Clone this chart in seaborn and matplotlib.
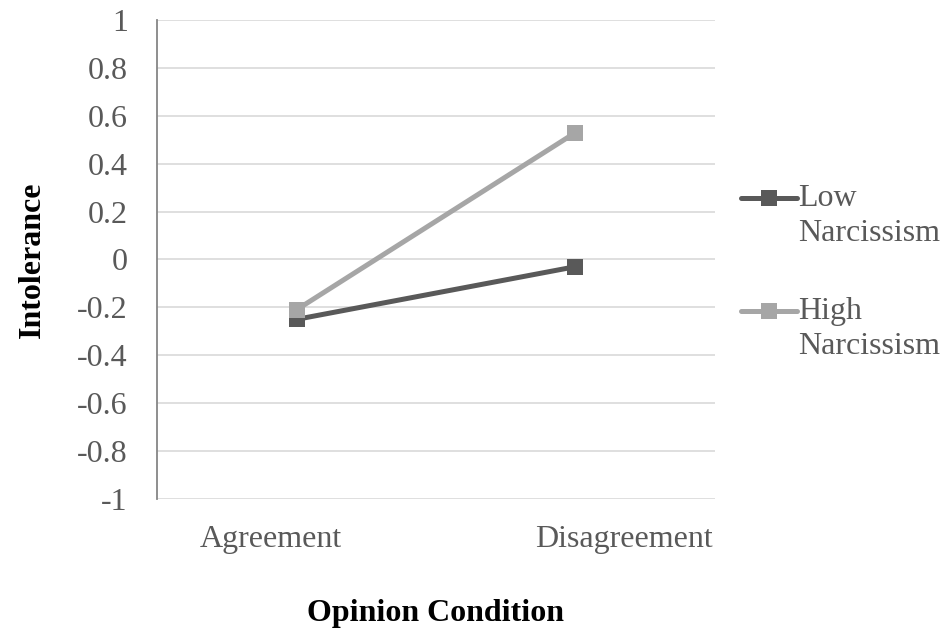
import matplotlib
matplotlib.use("Agg")
import matplotlib.pyplot as plt
import matplotlib.transforms as mtransforms
import numpy as np
import pandas as pd
import seaborn as sns

conditions = ["Agreement", "Disagreement"]
low_narcissism = [-0.25, -0.03]
high_narcissism = [-0.21, 0.53]
groups = ["Low\nNarcissism", "High\nNarcissism"]
y_ticks = [1, 0.8, 0.6, 0.4, 0.2, 0, -0.2, -0.4, -0.6, -0.8, -1]

df = pd.DataFrame({
    "Opinion Condition": conditions * 2,
    "Intolerance": low_narcissism + high_narcissism,
    "group": [groups[0]] * 2 + [groups[1]] * 2,
})

sns.set_style("white")
plt.rcParams["font.family"] = ["Liberation Serif", "DejaVu Serif"]
plt.rcParams["axes.unicode_minus"] = False

text_col = "#595959"
fig = plt.figure(figsize=(9.47, 6.32), dpi=100)
ax = fig.add_axes([0.1658, 0.2104, 0.5892, 0.758])

sns.lineplot(data=df, x="Opinion Condition", y="Intolerance", hue="group",
             style="group", markers=["s", "s"], dashes=False,
             palette=["#595959", "#a6a6a6"], linewidth=3.6, markersize=12,
             markeredgewidth=0, ax=ax)

ax.set_xlim(-0.5, 1.5)
ax.set_ylim(-1, 1)
ax.set_yticks(y_ticks)
ax.set_yticklabels([f"{v:g}" for v in y_ticks])
ax.yaxis.grid(True, color="#d9d9d9", linewidth=1.2)
ax.xaxis.grid(False)
for s in ["top", "right", "bottom"]:
    ax.spines[s].set_visible(False)
ax.spines["left"].set_color("#868686")
ax.spines["left"].set_linewidth(1.3)

ax.tick_params(axis="y", length=0, pad=21, labelsize=23, labelcolor=text_col)
ax.tick_params(axis="x", length=0, pad=19, labelsize=23, labelcolor=text_col)
# shift category labels like the original
for lbl, dx in zip(ax.get_xticklabels(), [-26, 48]):
    lbl.set_transform(lbl.get_transform() +
                      mtransforms.ScaledTranslation(dx / 100, 0, fig.dpi_scale_trans))

ax.set_xlabel("Opinion Condition", fontsize=23, fontweight="bold", color="black", labelpad=32)
ax.set_ylabel("Intolerance", fontsize=23, fontweight="bold", color="black", labelpad=22)

leg = ax.legend(loc="center left", bbox_to_anchor=(0.752, 0.569), bbox_transform=fig.transFigure,
                frameon=False, fontsize=23, handlelength=1.75, handletextpad=0.05,
                labelspacing=1.55)
for t in leg.get_texts():
    t.set_color(text_col)
    t.set_linespacing(1.25)
# put the legend line next to the first text line, as in the original
for h in leg.legend_handles:
    h.set_ydata(np.asarray(h.get_ydata()) + 13)

fig.savefig("out.png", dpi=100)
